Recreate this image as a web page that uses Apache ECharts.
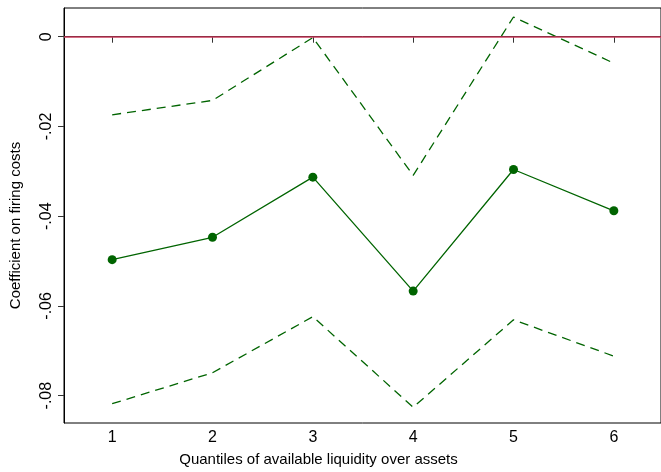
<!DOCTYPE html>
<html>
<head>
<meta charset="utf-8">
<script src="https://cdn.jsdelivr.net/npm/echarts@6/dist/echarts.min.js"></script>
<style>
  html, body { margin: 0; padding: 0; background: #fff; }
  #chart { width: 661px; height: 472px; }
</style>
</head>
<body>
<div id="chart"></div>
<script>
// quantile groups
const quantiles = [1, 2, 3, 4, 5, 6];
// point estimate and confidence bounds
const coef = [-0.0497, -0.0447, -0.0313, -0.0567, -0.0296, -0.0388];
const upper = [-0.0174, -0.0142, -0.0002, -0.0309, 0.0044, -0.0059];
const lower = [-0.0818, -0.0749, -0.0624, -0.0826, -0.0631, -0.0712];
const yTicks = [0, -0.02, -0.04, -0.06, -0.08];

const green = '#006400';
const font = 'Liberation Sans, Arial, sans-serif';

const pairs = (ys) => quantiles.map((q, i) => [q, ys[i]]);
const fmtY = (v) => (v === 0 ? '0' : '-' + String(Math.abs(v)).replace(/^0/, ''));

const chart = echarts.init(document.getElementById('chart'));
chart.setOption({
  animation: false,
  grid: {
    left: 56,
    right: -2,
    top: 8,
    bottom: 42,
    show: true,
    borderColor: '#000',
    borderWidth: 1,
    containLabel: false,
  },
  xAxis: {
    type: 'value',
    min: 0.52,
    max: 6.47,
    name: 'Quantiles of available liquidity over assets',
    nameLocation: 'middle',
    nameGap: 29,
    nameTextStyle: { fontFamily: font, fontSize: 15, color: '#000', padding: [0, 88, 0, 0] },
    axisLine: { show: true, lineStyle: { color: '#000' } },
    axisTick: { show: true, length: 6, lineStyle: { color: '#333' }, customValues: quantiles },
    axisLabel: { fontFamily: font, fontSize: 16, color: '#000', margin: 7, customValues: quantiles },
    splitLine: { show: false },
  },
  yAxis: {
    type: 'value',
    min: -0.0861,
    max: 0.0064,
    name: 'Coefficient on firing costs',
    nameLocation: 'middle',
    nameRotate: 90,
    nameGap: 41,
    nameTextStyle: { fontFamily: font, fontSize: 15, color: '#000', padding: [0, 20, 0, 0] },
    axisLine: { show: true, lineStyle: { color: '#000' } },
    axisTick: { show: true, length: 6, lineStyle: { color: '#333' }, customValues: yTicks },
    axisLabel: {
      fontFamily: font,
      fontSize: 16,
      color: '#000',
      rotate: 90,
      margin: 9,
      customValues: yTicks,
      formatter: fmtY,
    },
    splitLine: { show: false },
  },
  series: [
    {
      name: 'coef',
      type: 'line',
      data: pairs(coef),
      symbol: 'circle',
      symbolSize: 9,
      itemStyle: { color: green },
      lineStyle: { color: green, width: 1.3 },
      markLine: {
        silent: true,
        symbol: 'none',
        label: { show: false },
        lineStyle: { color: '#c83c5c', type: 'solid', width: 1.5 },
        data: [{ yAxis: 0 }],
      },
      z: 3,
    },
    {
      name: 'upper',
      type: 'line',
      data: pairs(upper),
      symbol: 'none',
      lineStyle: { color: green, width: 1.3, type: [9, 6] },
    },
    {
      name: 'lower',
      type: 'line',
      data: pairs(lower),
      symbol: 'none',
      lineStyle: { color: green, width: 1.3, type: [9, 6] },
    },
  ],
});
</script>
</body>
</html>
